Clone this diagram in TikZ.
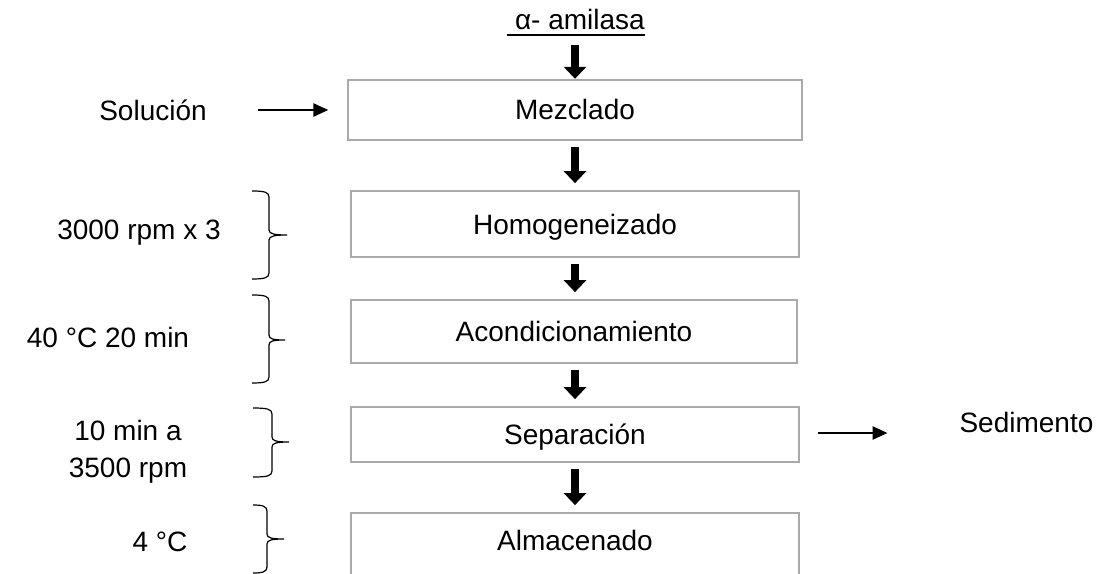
\documentclass[tikz,border=0pt]{standalone}
\usepackage{fontspec}
\setmainfont{Liberation Sans}
\usetikzlibrary{arrows.meta}

\definecolor{grisborde}{RGB}{170,170,170}
\newcommand{\subrayado}[1]{\setbox0\hbox{#1}\rlap{\vrule height -3pt depth 4.5pt width \wd0}\box0}
% llave: x izq, x vertical, x punta, arriba, medio, abajo
\newcommand{\llave}[6]{\draw [line width=0.9pt] (#1,#4) .. controls (#2-5,#4) and (#2,#4+1) .. (#2,#4+6) -- (#2,#5-5) .. controls (#2,#5-1) and (#3-12,#5) .. (#3,#5) .. controls (#3-12,#5) and (#2,#5+1) .. (#2,#5+5) -- (#2,#6-6) .. controls (#2,#6-1) and (#2-5,#6) .. (#1,#6) ;}

\tikzset{every picture/.style={line width=0.75pt}}

\begin{document}
\begin{tikzpicture}[x=0.75pt,y=0.75pt,yscale=-1,xscale=1,
  font=\fontsize{21}{25}\selectfont,
  caja/.style={draw=grisborde, line width=1.8pt, inner sep=0pt, text height=15pt, text depth=0pt},
  flecha/.style={line width=6pt, -{Triangle[width=16.5pt,length=9pt]}, shorten <=4.5pt, shorten >=5pt},
  flechita/.style={line width=0.9pt, -{Triangle[width=10pt,length=11pt]}}]
\useasboundingbox (0,0) rectangle (1109,574);

%Shape: Rectangle [Mezclado]
\draw (575,110) node [caja, minimum width=340.5pt, minimum height=45pt] (mez) {Mezclado};
%Shape: Rectangle [Homogeneizado]
\draw (575,224) node [caja, minimum width=336pt, minimum height=49.5pt] (hom) {Homogeneizado};
%Shape: Rectangle [Acondicionamiento]
\draw (574,331.5) node [caja, minimum width=334.5pt, minimum height=47.25pt] (aco) {Acondicionamiento};
%Shape: Rectangle [Separacion]
\draw (575,434.5) node [caja, minimum width=336pt, minimum height=41.25pt] (sep) {Separación};
%Shape: Rectangle [Almacenado]
\draw (575,545) node [caja, minimum width=336pt, minimum height=48pt, text depth=7.5pt] (alm) {Almacenado};

% Text Node
\draw (576,30) node [anchor=base][inner sep=0.75pt] (ami) {\subrayado{\ α- amilasa}};
% Text Node
\draw (153,110) node [inner sep=0.75pt] (sol) {Solución};
% Text Node
\draw (958,422) node [anchor=west][inner sep=0.75pt] (sed) {Sedimento};
% Text Node
\draw (139,233) node [inner sep=0.75pt] (rpm) {3000 rpm x 3};
% Text Node
\draw (108,337) node [inner sep=0.75pt] (tem) {40 °C 20 min};
% Text Node
\draw (128,451.5) node [inner sep=0.75pt, align=center, font=\fontsize{21}{27.75}\selectfont] (cen) {10 min a\\3500 rpm};
% Text Node
\draw (160,542) node [inner sep=0.75pt] (fri) {4 °C};

%Block Arrows
\draw [flecha, shorten <=6pt, shorten >=0pt] (mez.north |- ami.south) -- (mez.north) ;
\draw [flecha] (mez) -- (hom) ;
\draw [flecha] (hom) -- (aco.north -| hom.south) ;
\draw [flecha] (aco.south -| hom.south) -- (sep) ;
\draw [flecha] (sep) -- (alm) ;

%Straight Lines
\draw [flechita, shorten <=37.5pt, shorten >=14pt] (sol.east) -- (mez.west |- sol.east) ;
\draw [flechita, shorten <=13.5pt, shorten >=53pt] (sep.east |- 0,433) -- (sed.west |- 0,433) ;

%Shape: Braces
\llave{252}{269}{287}{191}{235}{279}
\llave{252}{269}{285}{295}{340}{383}
\llave{253}{272}{289}{408}{442}{477}
\llave{253}{267}{284}{505}{539}{573}

\end{tikzpicture}
\end{document}
